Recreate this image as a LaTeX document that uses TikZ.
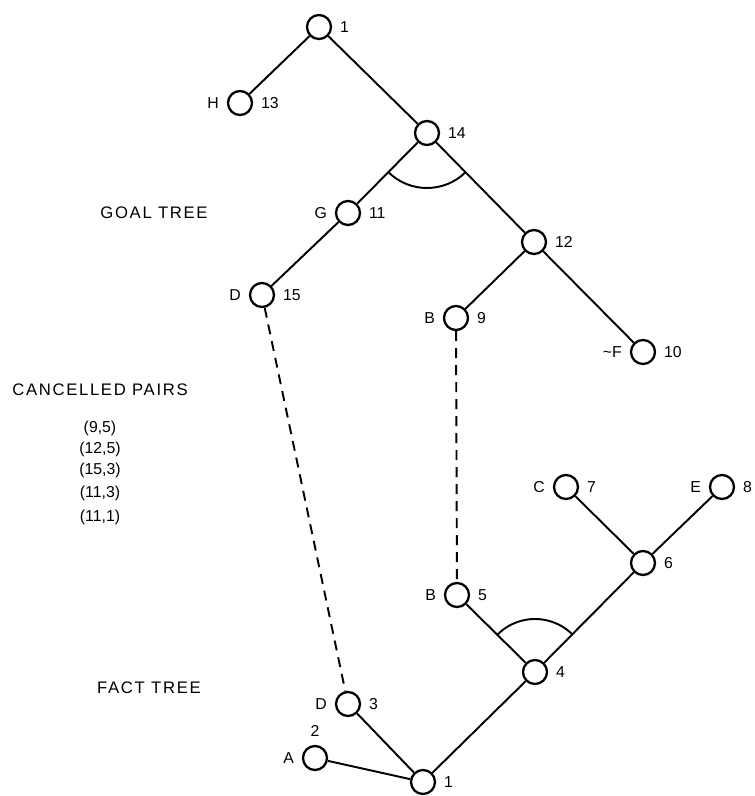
\documentclass[tikz,border=0pt]{standalone}
\usepackage{fontspec}
\setmainfont{Liberation Sans}
\newfontfamily\spacedfont[LetterSpace=10]{Liberation Sans}
\usetikzlibrary{arrows,shapes}
\usetikzlibrary{calc}
\tikzstyle{vertex}=[circle,draw,line width=1.3pt,minimum size=0.48cm,inner sep=0pt]
\tikzstyle{undirectededge} = [draw,line width=1.1pt]
\tikzstyle{cancelledge} = [draw,line width=1.1pt,dash pattern=on 0.2cm off 0.14cm]
\tikzstyle{tag} = [font=\fontsize{9}{11}\selectfont]
\tikzstyle{title} = [font=\spacedfont\fontsize{9.5}{12}\selectfont]

\begin{document}
\begin{tikzpicture}[scale=1, label distance=1pt, every label/.style={tag}]
\useasboundingbox (0,0) rectangle (15.1,15.92);

    % goal tree
    \foreach \pos/\name/\lab/\num in {{(6.38,15.38)/g1//1},{(4.80,13.86)/g13/H/13},{(8.54,13.26)/g14//14},
        {(6.96,11.66)/g11/G/11},{(10.68,11.08)/g12//12},{(5.24,10.02)/g15/D/15},
        {(9.12,9.56)/g9/B/9},{(12.86,8.88)/g10/\textasciitilde F/10}}
        \node[vertex, label=left:\lab, label=right:\num] (\name) at \pos {};

    % fact tree
    \foreach \pos/\name/\lab/\num in {{(11.32,6.18)/f7/C/7},{(14.44,6.18)/f8/E/8},{(12.86,4.66)/f6//6},
        {(9.14,4.02)/f5/B/5},{(10.70,2.48)/f4//4},{(6.96,1.84)/f3/D/3},{(8.46,0.28)/f1//1}}
        \node[vertex, label=left:\lab, label=right:\num] (\name) at \pos {};
    \node[vertex, label=left:A, label=above:2] (f2) at (6.30,0.76) {};

    % Connect vertices with edges
    \foreach \source/ \dest in {g1/g13, g1/g14, g14/g11, g14/g12, g11/g15, g12/g9, g12/g10,
        f7/f6, f8/f6, f6/f4, f5/f4, f4/f1, f3/f1, f2/f1}
        \path[undirectededge] (\source) -- (\dest);

    % and-arcs
    \draw[line width=1.1pt] (g14.center) ++(225.4:1.1) arc[start angle=225.4, end angle=314.5, radius=1.1];
    \draw[line width=1.1pt] (f4.center) ++(45.3:1.06) arc[start angle=45.3, end angle=135.4, radius=1.06];

    % cancelled pairs
    \foreach \source/ \dest in {g15/f3, g9/f5}
        \path[cancelledge] (\source) -- (\dest);

 \node[title] (goal) at (3.08,11.66) {GOAL TREE};
 \node[title] (cancelled) at (2.00,8.12) {CANCELLED PAIRS};
 \node[title] (fact) at (2.98,2.16) {FACT TREE};

    \foreach \y/\pair [count=\i] in {7.36/{(9,5)},6.94/{(12,5)},6.52/{(15,3)},6.06/{(11,3)},5.58/{(11,1)}}
        \node[tag] (pair\i) at (2.00,\y) {\pair};

\end{tikzpicture}
\end{document}
